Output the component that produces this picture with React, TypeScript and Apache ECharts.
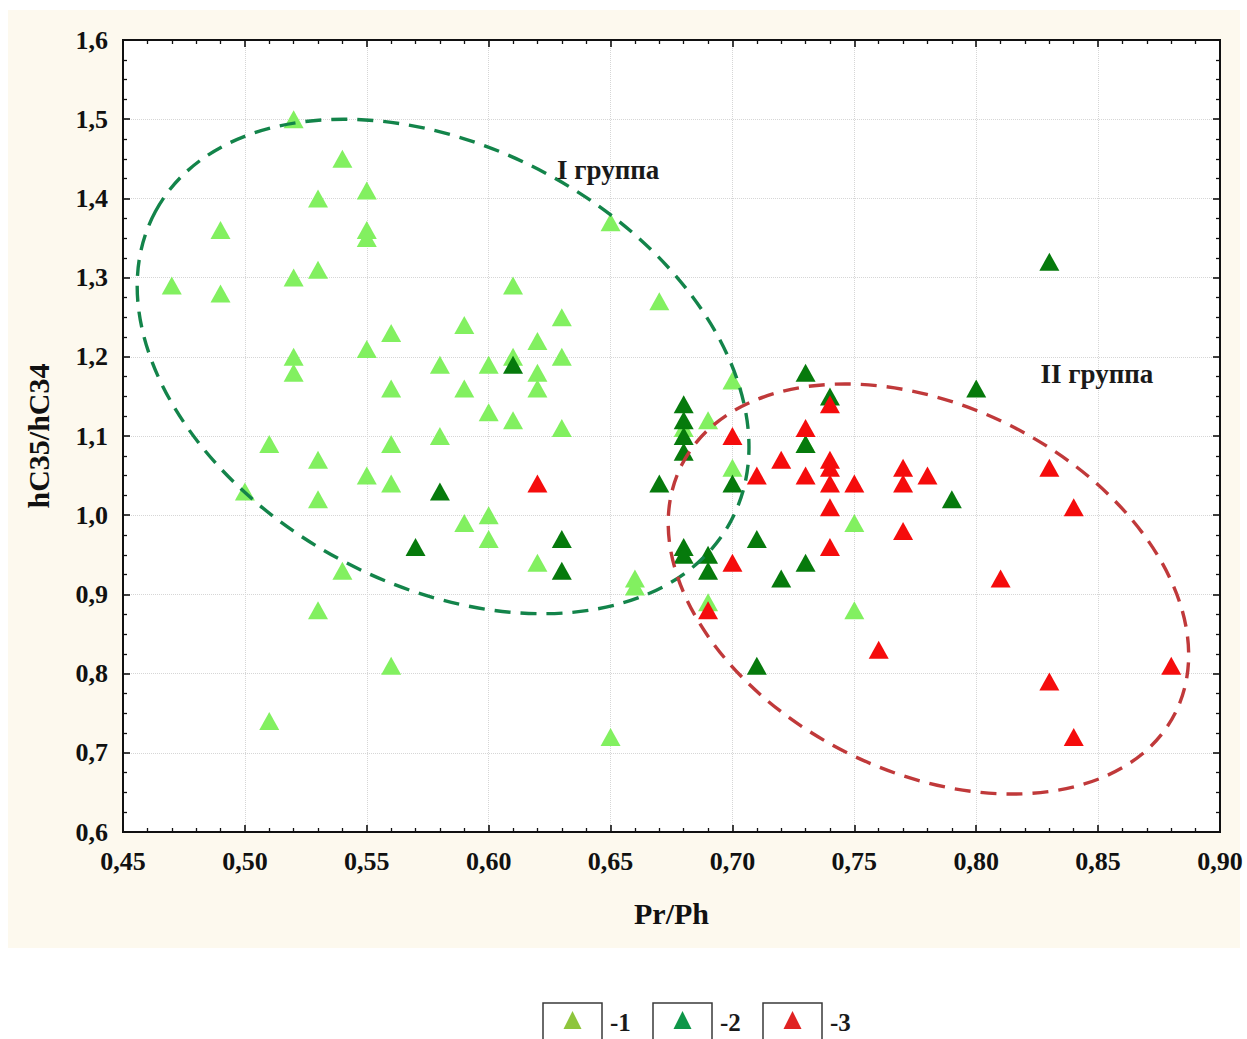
import React, { useEffect, useRef } from "react";
import * as echarts from "echarts";

// ---- Data (Pr/Ph, hC35/hC34) ----
const group1: [number, number][] = [
  [0.47, 1.29], [0.49, 1.36], [0.49, 1.28], [0.5, 1.03], [0.51, 1.09], [0.51, 0.74],
  [0.52, 1.5], [0.52, 1.3], [0.52, 1.2], [0.52, 1.18], [0.53, 1.4], [0.53, 1.31],
  [0.53, 1.07], [0.53, 1.02], [0.53, 0.88], [0.54, 1.45], [0.54, 0.93], [0.55, 1.41],
  [0.55, 1.36], [0.55, 1.35], [0.55, 1.21], [0.55, 1.05], [0.56, 1.23], [0.56, 1.16],
  [0.56, 1.09], [0.56, 1.04], [0.56, 0.81], [0.58, 1.19], [0.58, 1.1], [0.59, 1.24],
  [0.59, 1.16], [0.59, 0.99], [0.6, 1.19], [0.6, 1.13], [0.6, 1.0], [0.6, 0.97],
  [0.61, 1.29], [0.61, 1.2], [0.61, 1.12], [0.62, 1.22], [0.62, 1.18], [0.62, 1.16],
  [0.62, 0.94], [0.63, 1.25], [0.63, 1.2], [0.63, 1.11], [0.65, 1.37], [0.65, 0.72],
  [0.66, 0.92], [0.66, 0.91], [0.67, 1.27], [0.68, 1.11], [0.69, 1.12], [0.69, 0.89],
  [0.7, 1.17], [0.7, 1.06], [0.73, 1.09], [0.75, 0.99], [0.75, 0.88],
];

const group2: [number, number][] = [
  [0.57, 0.96], [0.58, 1.03], [0.61, 1.19], [0.63, 0.97], [0.63, 0.93], [0.67, 1.04],
  [0.68, 1.14], [0.68, 1.12], [0.68, 1.1], [0.68, 1.08], [0.68, 0.96], [0.68, 0.95],
  [0.69, 0.95], [0.69, 0.93], [0.7, 1.04], [0.71, 0.97], [0.71, 0.81], [0.72, 0.92],
  [0.73, 1.18], [0.73, 1.09], [0.73, 0.94], [0.74, 1.15], [0.79, 1.02], [0.8, 1.16],
  [0.83, 1.32],
];

const group3: [number, number][] = [
  [0.62, 1.04], [0.69, 0.88], [0.7, 1.1], [0.7, 0.94], [0.71, 1.05], [0.72, 1.07],
  [0.73, 1.11], [0.73, 1.05], [0.74, 1.14], [0.74, 1.07], [0.74, 1.06], [0.74, 1.04],
  [0.74, 1.01], [0.74, 0.96], [0.75, 1.04], [0.76, 0.83], [0.77, 1.06], [0.77, 1.04],
  [0.77, 0.98], [0.78, 1.05], [0.81, 0.92], [0.83, 1.06], [0.83, 0.79], [0.84, 1.01],
  [0.84, 0.72], [0.88, 0.81],
];

const seriesNames = ["1", "2", "3"];
const legendLabels = ["-1", "-2", "-3"];

// axis ranges
const xRange = [0.45, 0.9, 0.05];
const yRange = [0.6, 1.6, 0.1];

// group ellipses: centre (x, y), semi-axes in x-axis units, tilt in degrees (clockwise on screen)
const ellipseCentres: [number, number][] = [[0.5813, 1.1878], [0.7804, 0.9068]];
const ellipseAxes: [number, number][] = [[0.1341, 0.0898], [0.1133, 0.0750]];
const ellipseTilt = [28.3, 26.6];

// group captions and where they sit (data coords)
const groupCaptions = ["I группа", "II группа"];
const captionAnchors: [number, number][] = [[0.649, 1.436], [0.8495, 1.178]];

const FONT = "'Liberation Serif', 'Times New Roman', Times, serif";
const markerColors = ["#82f060", "#067a0c", "#f50c0c"];
const legendColors = ["#8ec53c", "#0e9648", "#e02222"];
const ellipseColors = ["#13844a", "#c0393a"];

export default function App() {
  const ref = useRef<HTMLDivElement>(null);

  useEffect(() => {
    if (!ref.current) return;
    const chart = echarts.init(ref.current, null, { renderer: "svg" });

    const fmtX = (v: number) => v.toFixed(2).replace(".", ",");
    const fmtY = (v: number) => v.toFixed(1).replace(".", ",");

    const axisLine = { show: true, onZero: false, lineStyle: { color: "#111", width: 2 } };
    const axisTick = { show: true, inside: true, length: 7, lineStyle: { color: "#111", width: 1.6 } };
    const splitLine = { show: true, lineStyle: { color: "#d6d6d6", width: 1, type: "dotted" as const } };
    const labelStyle = { fontFamily: FONT, fontWeight: "bold" as const, fontSize: 26, color: "#111" };
    const nameStyle = { fontFamily: FONT, fontWeight: "bold" as const, fontSize: 30, color: "#111" };

    chart.setOption({
      animation: false,
      backgroundColor: "transparent",
      grid: {
        left: 123,
        right: 27,
        top: 40,
        bottom: 207,
        show: true,
        backgroundColor: "#ffffff",
        borderColor: "#111",
        borderWidth: 2,
      },
      xAxis: [
        {
          type: "value",
          position: "bottom",
          min: xRange[0],
          max: xRange[1],
          interval: xRange[2],
          axisLine,
          axisTick,
          minorTick: { show: true, splitNumber: 5, length: 4, lineStyle: { color: "#111", width: 1.3 } },
          splitLine,
          axisLabel: { ...labelStyle, margin: 16, formatter: fmtX },
          name: "Pr/Ph",
          nameLocation: "middle",
          nameGap: 66,
          nameTextStyle: nameStyle,
        },
        {
          type: "value",
          position: "top",
          min: xRange[0],
          max: xRange[1],
          interval: xRange[2],
          axisLine,
          axisTick,
          minorTick: { show: true, splitNumber: 5, length: 4, lineStyle: { color: "#111", width: 1.3 } },
          splitLine: { show: false },
          axisLabel: { show: false },
        },
      ],
      yAxis: [
        {
          type: "value",
          position: "left",
          min: yRange[0],
          max: yRange[1],
          interval: yRange[2],
          axisLine,
          axisTick,
          minorTick: { show: true, splitNumber: 4, length: 4, lineStyle: { color: "#111", width: 1.3 } },
          splitLine,
          axisLabel: { ...labelStyle, margin: 15, formatter: fmtY },
          name: "hC35/hC34",
          nameLocation: "middle",
          nameGap: 70,
          nameTextStyle: nameStyle,
        },
        {
          type: "value",
          position: "right",
          min: yRange[0],
          max: yRange[1],
          interval: yRange[2],
          axisLine,
          axisTick,
          minorTick: { show: true, splitNumber: 4, length: 4, lineStyle: { color: "#111", width: 1.3 } },
          splitLine: { show: false },
          axisLabel: { show: false },
        },
      ],
      series: [group1, group2, group3].map((data, i) => ({
        type: "scatter",
        name: seriesNames[i],
        xAxisIndex: 0,
        yAxisIndex: 0,
        data,
        symbol: "triangle",
        symbolSize: [20, 18],
        itemStyle: { color: markerColors[i], opacity: 1 },
        z: 3 + i,
      })),
    });

    const toPx = (p: [number, number]) =>
      chart.convertToPixel({ xAxisIndex: 0, yAxisIndex: 0 }, p) as number[];
    const pxPerUnitX = toPx([xRange[0] + 0.1, yRange[0]])[0] - toPx([xRange[0], yRange[0]])[0];
    const pxPerX = pxPerUnitX / 0.1;

    const graphics: any[] = [];

    ellipseCentres.forEach((c, i) => {
      const [cx, cy] = toPx(c);
      graphics.push({
        type: "ellipse",
        x: cx,
        y: cy,
        rotation: (-ellipseTilt[i] * Math.PI) / 180,
        shape: { cx: 0, cy: 0, rx: ellipseAxes[i][0] * pxPerX, ry: ellipseAxes[i][1] * pxPerX },
        style: { fill: "none", stroke: ellipseColors[i], lineWidth: 3.4, lineDash: [16, 10] },
        z: 100,
        silent: true,
      });
    });

    groupCaptions.forEach((t, i) => {
      const [x, y] = toPx(captionAnchors[i]);
      graphics.push({
        type: "text",
        x,
        y,
        z: 101,
        style: {
          text: t,
          font: `bold 27px ${FONT}`,
          fill: "#1a1a1a",
          textAlign: "center",
          textVerticalAlign: "middle",
        },
      });
    });

    // legend (boxed swatches along the bottom)
    const boxLeft = [543, 653, 763];
    boxLeft.forEach((bx, i) => {
      const mid = bx + 29.5;
      graphics.push(
        {
          type: "rect",
          shape: { x: bx, y: 1003, width: 59, height: 44 },
          style: { fill: "#ffffff", stroke: "#3a3a3a", lineWidth: 1.5 },
          z: 50,
        },
        {
          type: "polygon",
          shape: { points: [[mid, 1011], [mid - 9, 1029], [mid + 9, 1029]] },
          style: { fill: legendColors[i] },
          z: 51,
        },
        {
          type: "text",
          x: bx + 67,
          y: 1022,
          z: 51,
          style: {
            text: legendLabels[i],
            font: `bold 25px ${FONT}`,
            fill: "#1a1a1a",
            textAlign: "left",
            textVerticalAlign: "middle",
          },
        }
      );
    });

    chart.setOption({ graphic: graphics });

    return () => chart.dispose();
  }, []);

  return (
    <div style={{ position: "fixed", left: 0, top: 0, width: 1247, height: 1039, background: "#ffffff", overflow: "hidden" }}>
      <div style={{ position: "absolute", left: 8, top: 10, width: 1232, height: 938, background: "#fdf9ee" }} />
      <div ref={ref} style={{ position: "absolute", left: 0, top: 0, width: 1247, height: 1039 }} />
    </div>
  );
}
